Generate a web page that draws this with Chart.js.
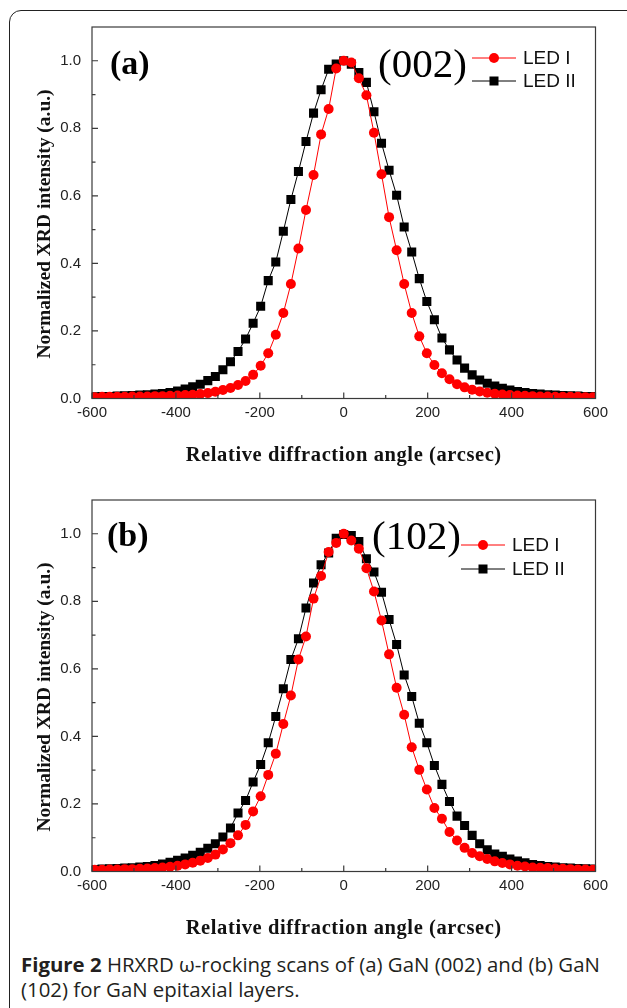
<!DOCTYPE html>
<html>
<head>
<meta charset="utf-8">
<script src="https://cdn.jsdelivr.net/npm/chart.js@4.4.0/dist/chart.umd.min.js"></script>
<style>
  html, body { margin: 0; padding: 0; background: #fff; }
  body { width: 627px; height: 1008px; position: relative; overflow: hidden; }
  #box { position: absolute; left: 9px; top: 10px; width: 640px; height: 1030px;
         border: 1.5px solid #222; border-radius: 12px; box-sizing: border-box; }
  .panel { position: absolute; left: 0; }
  #caption { position: absolute; left: 21px; top: 952px; font-family: "Open Sans", sans-serif;
             font-size: 20.4px; line-height: 25px; color: #231f20; white-space: nowrap; }
  #caption b { font-weight: 700; }
</style>
</head>
<body>
<div id="box"></div>
<canvas id="chartA" class="panel" width="627" height="470" style="top:0px"></canvas>
<canvas id="chartB" class="panel" width="627" height="470" style="top:473px"></canvas>
<div id="caption"><b>Figure 2</b> HRXRD ω-rocking scans of (a) GaN (002) and (b) GaN<br>(102) for GaN epitaxial layers.</div>
<script>
// relative diffraction angle (arcsec), same sampling for both panels
const angles = [-594, -576, -558, -540, -522, -504, -486, -468, -450, -432, -414, -396, -378, -360,
  -342, -324, -306, -288, -270, -252, -234, -216, -198, -180, -162, -144, -126, -108, -90, -72,
  -54, -36, -18, 0, 18, 36, 54, 72, 90, 108, 126, 144, 162, 180, 198, 216, 234, 252, 270, 288,
  306, 324, 342, 360, 378, 396, 414, 432, 450, 468, 486, 504, 522, 540, 558, 576, 594];

// (a) GaN (002)
const ledI_002 = [0.004, 0.005, 0.005, 0.005, 0.005, 0.006, 0.006, 0.006, 0.007, 0.007, 0.008, 0.009,
  0.010, 0.011, 0.013, 0.016, 0.020, 0.025, 0.031, 0.040, 0.052, 0.070, 0.097, 0.134, 0.189, 0.253,
  0.339, 0.444, 0.558, 0.662, 0.782, 0.857, 0.977, 1.000, 0.995, 0.948, 0.898, 0.787, 0.664, 0.537,
  0.439, 0.339, 0.253, 0.184, 0.134, 0.099, 0.075, 0.057, 0.042, 0.033, 0.026, 0.021, 0.017, 0.014,
  0.012, 0.010, 0.009, 0.008, 0.007, 0.006, 0.006, 0.005, 0.005, 0.005, 0.005, 0.004, 0.004];
const ledII_002 = [0.005, 0.006, 0.006, 0.007, 0.008, 0.009, 0.010, 0.011, 0.013, 0.015, 0.018, 0.022,
  0.028, 0.035, 0.042, 0.053, 0.065, 0.085, 0.109, 0.139, 0.176, 0.223, 0.273, 0.349, 0.404, 0.495,
  0.589, 0.672, 0.761, 0.845, 0.914, 0.975, 0.990, 1.000, 0.990, 0.965, 0.936, 0.849, 0.756, 0.676,
  0.602, 0.508, 0.434, 0.355, 0.287, 0.233, 0.179, 0.144, 0.114, 0.090, 0.070, 0.055, 0.045, 0.037,
  0.030, 0.025, 0.021, 0.018, 0.015, 0.013, 0.011, 0.010, 0.009, 0.008, 0.007, 0.006, 0.006];

// (b) GaN (102)
const ledI_102 = [0.005, 0.005, 0.006, 0.006, 0.007, 0.007, 0.008, 0.009, 0.010, 0.012, 0.014, 0.017,
  0.021, 0.026, 0.032, 0.040, 0.050, 0.065, 0.084, 0.107, 0.138, 0.178, 0.223, 0.286, 0.349, 0.437,
  0.521, 0.628, 0.696, 0.808, 0.875, 0.946, 0.973, 1.000, 0.980, 0.956, 0.898, 0.829, 0.743, 0.643,
  0.544, 0.464, 0.368, 0.301, 0.243, 0.188, 0.156, 0.117, 0.092, 0.070, 0.055, 0.045, 0.037, 0.030,
  0.025, 0.021, 0.017, 0.015, 0.012, 0.011, 0.010, 0.009, 0.008, 0.007, 0.006, 0.006, 0.005];
const ledII_102 = [0.006, 0.007, 0.008, 0.009, 0.010, 0.011, 0.013, 0.015, 0.018, 0.022, 0.027, 0.033,
  0.040, 0.048, 0.057, 0.069, 0.082, 0.102, 0.129, 0.173, 0.210, 0.265, 0.317, 0.381, 0.459, 0.541,
  0.628, 0.689, 0.780, 0.854, 0.908, 0.943, 0.987, 0.998, 0.995, 0.977, 0.926, 0.887, 0.827, 0.746,
  0.672, 0.582, 0.518, 0.439, 0.381, 0.314, 0.258, 0.207, 0.164, 0.136, 0.107, 0.082, 0.064, 0.052,
  0.045, 0.037, 0.031, 0.026, 0.021, 0.018, 0.015, 0.013, 0.011, 0.010, 0.009, 0.008, 0.007];

const xTicks = [-600, -400, -200, 0, 200, 400, 600];
const xMinor = [-500, -300, -100, 100, 300, 500];
const yTicks = [0, 0.2, 0.4, 0.6, 0.8, 1.0];
const yMinor = [0.1, 0.3, 0.5, 0.7, 0.9];

const RED = "#ff0000";
const BLACK = "#000000";
const FRAME = "#3a3a3a";
const SERIF = '"Liberation Serif", "Times New Roman", serif';
const SANS = '"Liberation Sans", Arial, sans-serif';

function pts(ys) {
  return angles.map((x, i) => ({ x: x, y: ys[i] }));
}

// frame, inward ticks, titles, panel tag and legend
const decor = {
  id: "decor",
  afterDatasetsDraw(chart, args, o) {
    const ctx = chart.ctx;
    const a = chart.chartArea;
    const xs = chart.scales.x, ys = chart.scales.y;
    ctx.save();
    ctx.strokeStyle = FRAME;
    ctx.lineWidth = 1.2;
    ctx.strokeRect(a.left, a.top, a.right - a.left, a.bottom - a.top);
    ctx.beginPath();
    xTicks.forEach((v) => { const p = xs.getPixelForValue(v); ctx.moveTo(p, a.bottom); ctx.lineTo(p, a.bottom - 6); });
    xMinor.forEach((v) => { const p = xs.getPixelForValue(v); ctx.moveTo(p, a.bottom); ctx.lineTo(p, a.bottom - 3.5); });
    yTicks.forEach((v) => { const p = ys.getPixelForValue(v); ctx.moveTo(a.left, p); ctx.lineTo(a.left + 6, p); });
    yMinor.forEach((v) => { const p = ys.getPixelForValue(v); ctx.moveTo(a.left, p); ctx.lineTo(a.left + 3.5, p); });
    ctx.stroke();

    // axis titles
    ctx.fillStyle = "#111";
    ctx.textAlign = "center";
    ctx.textBaseline = "middle";
    ctx.font = "bold 20.5px " + SERIF;
    ctx.letterSpacing = "0.6px";
    ctx.fillText("Relative diffraction angle (arcsec)", (a.left + a.right) / 2, 456);
    ctx.letterSpacing = "0px";
    ctx.save();
    ctx.translate(45, 224);
    ctx.rotate(-Math.PI / 2);
    ctx.font = "bold 19.5px " + SERIF;
    ctx.fillText("Normalized XRD intensity (a.u.)", 0, 0);
    ctx.restore();

    // panel tag and reflection
    ctx.textAlign = "left";
    ctx.fillStyle = "#000";
    ctx.font = "bold 34px " + SERIF;
    ctx.fillText(o.tag, o.tagX, o.tagY);
    ctx.font = "41px " + SERIF;
    ctx.fillText(o.refl, o.reflX, o.reflY);

    // legend
    ctx.font = "19px " + SANS;
    o.legend.forEach((row) => {
      ctx.strokeStyle = row.color;
      ctx.lineWidth = 1;
      ctx.beginPath();
      ctx.moveTo(o.lineX1, row.y);
      ctx.lineTo(o.lineX2, row.y);
      ctx.stroke();
      ctx.fillStyle = row.color;
      const m = (o.lineX1 + o.lineX2) / 2;
      if (row.shape === "circle") {
        ctx.beginPath();
        ctx.arc(m, row.y, 5, 0, Math.PI * 2);
        ctx.fill();
      } else {
        ctx.fillRect(m - 4.5, row.y - 4.5, 9, 9);
      }
      ctx.fillStyle = "#111";
      ctx.fillText(row.label, o.textX, row.y + 1);
    });
    ctx.restore();
  }
};

function makeChart(id, ledI, ledII, deco) {
  return new Chart(document.getElementById(id), {
    type: "line",
    data: {
      datasets: [
        { label: "LED I", data: pts(ledI), borderColor: RED, backgroundColor: RED, borderWidth: 1,
          pointStyle: "circle", pointRadius: 5, pointBorderWidth: 0, tension: 0 },
        { label: "LED II", data: pts(ledII), borderColor: BLACK, backgroundColor: BLACK, borderWidth: 1,
          pointStyle: "rect", pointRadius: 6.4, pointBorderWidth: 0, tension: 0 }
      ]
    },
    options: {
      responsive: false,
      animation: false,
      events: [],
      layout: { padding: { top: 27, right: 31.5, bottom: 0, left: 0 } },
      plugins: { legend: { display: false }, tooltip: { enabled: false }, decor: deco },
      scales: {
        x: {
          type: "linear", min: -600, max: 600,
          afterBuildTicks: (s) => { s.ticks = xTicks.map((v) => ({ value: v })); },
          afterFit: (s) => { s.height = 71.5; },
          grid: { display: false, drawTicks: false },
          border: { display: false },
          ticks: { font: { family: SANS, size: 15 }, color: "#222", padding: 5, maxRotation: 0, autoSkip: false }
        },
        y: {
          min: 0, max: 1.1,
          afterBuildTicks: (s) => { s.ticks = yTicks.map((v) => ({ value: v })); },
          afterFit: (s) => { s.width = 92; },
          grid: { display: false, drawTicks: false },
          border: { display: false },
          ticks: { font: { family: SANS, size: 15 }, color: "#222", padding: 11,
                   callback: (v) => Number(v).toFixed(1) }
        }
      }
    },
    plugins: [decor]
  });
}

makeChart("chartA", ledI_002, ledII_002, {
  tag: "(a)", tagX: 110, tagY: 65, refl: "(002)", reflX: 378, reflY: 66,
  lineX1: 472, lineX2: 516, textX: 523,
  legend: [
    { label: "LED I", color: RED, shape: "circle", y: 58 },
    { label: "LED II", color: BLACK, shape: "rect", y: 81 }
  ]
});

makeChart("chartB", ledI_102, ledII_102, {
  tag: "(b)", tagX: 107, tagY: 64.5, refl: "(102)", reflX: 372, reflY: 65,
  lineX1: 461, lineX2: 505, textX: 512,
  legend: [
    { label: "LED I", color: RED, shape: "circle", y: 72 },
    { label: "LED II", color: BLACK, shape: "rect", y: 96 }
  ]
});
</script>
</body>
</html>
